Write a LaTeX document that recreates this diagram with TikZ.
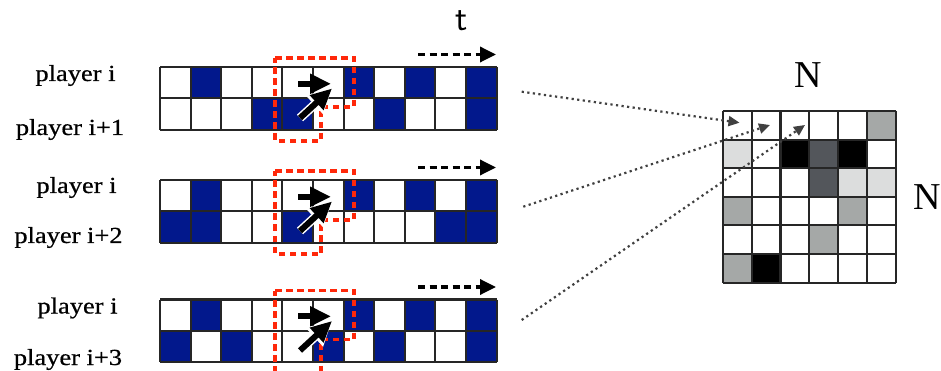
\documentclass[tikz,border=0pt]{standalone}
\usepackage{fontspec}
\setmainfont{Liberation Serif}
\newfontfamily\labelfont[FakeStretch=1.15,FakeBold=0.6]{Liberation Serif}
\usetikzlibrary{arrows.meta}

\definecolor{cellblue}{RGB}{2,24,140}
\definecolor{boxred}{RGB}{255,40,10}
\definecolor{gmid}{RGB}{165,168,167}
\definecolor{glight}{RGB}{220,221,221}
\definecolor{gdark}{RGB}{83,86,91}

\tikzset{
  cellline/.style={draw=black!85, line width=2.1pt},
  redbox/.style={draw=boxred, line width=3.2pt, dash pattern=on 6.5pt off 4.5pt},
  timearrow/.style={draw=black, line width=3.4pt, dash pattern=on 7pt off 4.5pt,
    -{Triangle[length=16pt,width=15pt]}},
  movearrow/.style={draw=black, line width=6pt, -{Triangle[length=21pt,width=19pt]}},
  movehalo/.style={draw=white, line width=9pt, -{Triangle[length=24pt,width=24pt]}},
  maparrow/.style={draw=black!75, line width=2.2pt, dash pattern=on 2.2pt off 3.4pt,
    -{Triangle[length=11pt,width=10pt]}},
  playerlabel/.style={anchor=base, inner sep=0pt, font=\labelfont\fontsize{23}{23}\selectfont},
  axislabel/.style={anchor=base, inner sep=0pt, font=\fontsize{38}{38}\selectfont}
}

% one pair of player rows: #1 name, #2 top y, #3 blue cells of the top row, #4 blue cells of the bottom row
\newcommand{\pairgrid}[4]{%
  \coordinate (#1) at (160,#2);
  \foreach \c in {#3} \fill[cellblue] (160+30.6*\c,#2) rectangle ++(30.6,31.3);
  \foreach \c in {#4} \fill[cellblue] (160+30.6*\c,#2+31.3) rectangle ++(30.6,31.3);
  \foreach \c in {0,...,11} \draw[cellline] (160+30.6*\c,#2) -- ++(0,62.6);
  \foreach \r in {0,1,2} \draw[cellline] (160,#2+31.3*\r) -- ++(336.6,0);
  % time direction
  \coordinate (#1ts) at (418,#2-12.5);
  \coordinate (#1te) at (496,#2-12.5);
  \draw[timearrow] (#1ts) -- (#1te);
  % neighbourhood window
  \draw[redbox] (275,#2-9) -- (354,#2-9) -- (354,#2+40) -- (321,#2+40)
     -- (321,#2+74) -- (275,#2+74) -- cycle;
  % moves
  \coordinate (#1ha) at (298,#2+16.8);
  \coordinate (#1hb) at (331,#2+16.8);
  \coordinate (#1da) at (300,#2+51);
  \coordinate (#1db) at (332,#2+21.5);
  \draw[movearrow] (#1ha) -- (#1hb);
  \draw[movehalo] (#1da) -- (#1db);
  \draw[movearrow] (#1da) -- (#1db);
}

\begin{document}
\begin{tikzpicture}[x=1pt,y=-1pt]
  \clip (0,0) rectangle (941,371);
  \fill[white] (0,0) rectangle (941,371);

  % player labels
  \node[playerlabel] (p1a) at (75.5,81) {player i};
  \node[playerlabel] (p1b) at (70,135) {player i+1};
  \node[playerlabel] (p2a) at (76.5,193) {player i};
  \node[playerlabel] (p2b) at (68.5,243) {player i+2};
  \node[playerlabel] (p3a) at (77.5,313.5) {player i};
  \node[playerlabel] (p3b) at (68,365) {player i+3};

  % the three pairs of rows
  \pairgrid{g1}{67}{1,6,8,10}{3,4,7,10}
  \pairgrid{g2}{180}{1,6,8,10}{0,1,4,9,10}
  \pairgrid{g3}{299.5}{1,6,8,10}{0,2,5,7,10}

  \node[axislabel, font=\fontsize{36}{36}\selectfont\sffamily] (t) at (462,31) {t};

  % N x N matrix
  \def\mx{722.7}\def\my{111}\def\mw{28.9}\def\mh{28.6}
  \foreach \c/\r/\col in {5/0/gmid, 0/1/glight, 2/1/black, 3/1/gdark, 4/1/black,
      3/2/gdark, 4/2/glight, 5/2/glight, 0/3/gmid, 4/3/gmid, 3/4/gmid, 0/5/gmid, 1/5/black}
    \fill[\col] (\mx+\mw*\c,\my+\mh*\r) rectangle ++(\mw,\mh);
  \foreach \i in {0,...,6} {
    \draw[cellline] (\mx+\mw*\i,\my) -- ++(0,6*\mh);
    \draw[cellline] (\mx,\my+\mh*\i) -- ++(6*\mw,0);
  }
  \coordinate (m0) at (739.5,122.7);
  \coordinate (m1) at (770,125);
  \coordinate (m2) at (805,125);

  \node[axislabel] (ntop) at (808.5,88) {N};
  \node[axislabel] (nright) at (927.5,210) {N};

  % mapping of each pair into the matrix
  \coordinate (s1) at (521.7,91.7);
  \coordinate (s2) at (523.3,206.7);
  \coordinate (s3) at (521.7,320);
  \draw[maparrow] (s1) -- (m0);
  \draw[maparrow] (s2) -- (m1);
  \draw[maparrow] (s3) -- (m2);
\end{tikzpicture}
\end{document}
